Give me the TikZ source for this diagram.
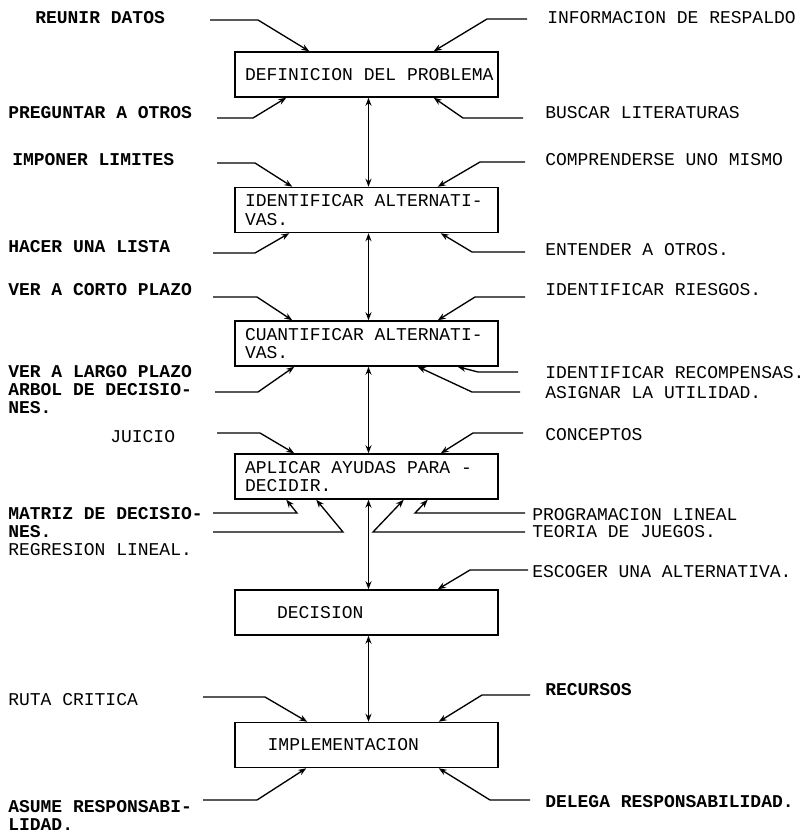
\documentclass[tikz,border=0pt]{standalone}
\usepackage{fontspec}
\setmonofont{Liberation Mono}
\usetikzlibrary{arrows.meta,calc}
\newcommand{\fixsp}{\spaceskip=0pt\xspaceskip=0pt\relax}
\tikzset{
  lbl/.style={anchor=west, inner sep=0pt, align=left,
    font=\ttfamily\fontsize{13.5pt}{13.5pt}\selectfont},
  lblb/.style={lbl, font=\ttfamily\bfseries\fontsize{13.5pt}{13.5pt}\selectfont},
  stepbox/.style={draw, line width=1.1pt, minimum width=197.25pt, minimum height=33.75pt,
    text width=182.25pt, inner xsep=7.5pt, inner ysep=0pt, align=left,
    font=\ttfamily\fontsize{13.5pt}{14pt}\selectfont},
  lead/.style={line width=1pt, -{Stealth[length=6pt,width=4.5pt]}},
  link/.style={line width=1.1pt, {Stealth[length=6pt,width=4.5pt]}-{Stealth[length=6pt,width=4.5pt]}},
}
\begin{document}
\begin{tikzpicture}[x=0.75pt,y=-0.75pt]
\useasboundingbox (0,0) rectangle (810,832);

% boxes
\node[stepbox] (b1) at (366.5,74.5) {\fixsp\mbox{DEFINICION DEL PROBLEMA}};
\node[stepbox] (b2) at (366.5,210) {\fixsp\mbox{IDENTIFICAR ALTERNATI-}\\\mbox{VAS.}};
\node[stepbox] (b3) at (366.5,343.5) {\fixsp\mbox{CUANTIFICAR ALTERNATI-}\\\mbox{VAS.}};
\node[stepbox] (b4) at (366.5,476.5) {\fixsp\mbox{APLICAR AYUDAS PARA -}\\\mbox{DECIDIR.}};
\node[stepbox] (b5) at (366.5,612.5) {\fixsp\hspace*{24pt}\mbox{DECISION}};
\node[stepbox] (b6) at (366.5,745) {\fixsp\hspace*{17pt}\mbox{IMPLEMENTACION}};

% vertical links
\draw[link] ($(b1.south)+(2,0)$) -- ($(b2.north)+(2,0)$);
\draw[link] ($(b2.south)+(2,0)$) -- ($(b3.north)+(2,0)$);
\draw[link] ($(b3.south)+(2,0)$) -- ($(b4.north)+(2,0)$);
\draw[link] ($(b4.south)+(2,0)$) -- ($(b5.north)+(2,0)$);
\draw[link] ($(b5.south)+(2,0)$) -- ($(b6.north)+(2,0)$);

% labels left
\node[lblb] (l1) at (35,18) {REUNIR DATOS};
\node[lblb] (l2) at (8,113) {PREGUNTAR A OTROS};
\node[lblb] (l3) at (12,160) {IMPONER LIMITES};
\node[lblb] (l4) at (8,247) {HACER UNA LISTA};
\node[lblb] (l5) at (8,290) {VER A CORTO PLAZO};
\node[lblb] (l6) at (8,390) {VER A LARGO PLAZO\\ARBOL DE DECISIO-\\NES.};
\node[lbl]  (l7) at (110,437) {JUICIO};
\node[lblb] (l8) at (8,523) {MATRIZ DE DECISIO-\\NES.};
\node[lbl]  (l9) at (8,550) {REGRESION LINEAL.};
\node[lbl]  (l10) at (8,700) {RUTA CRITICA};
\node[lblb] (l11) at (8,815) {ASUME RESPONSABI-\\LIDAD.};

% labels right
\node[lbl] (r1) at (547,18) {INFORMACION DE RESPALDO};
\node[lbl] (r2) at (545,113) {BUSCAR LITERATURAS};
\node[lbl] (r3) at (545,160) {COMPRENDERSE UNO MISMO};
\node[lbl] (r4) at (545,250) {ENTENDER A OTROS.};
\node[lbl] (r5) at (545,290) {IDENTIFICAR RIESGOS.};
\node[lbl] (r6) at (545,373) {IDENTIFICAR RECOMPENSAS.};
\node[lbl] (r7) at (545,393) {ASIGNAR LA UTILIDAD.};
\node[lbl] (r8) at (545,435) {CONCEPTOS};
\node[lbl] (r9) at (532,515) {PROGRAMACION LINEAL};
\node[lbl] (r10) at (532,532) {TEORIA DE JUEGOS.};
\node[lbl] (r11) at (532,572) {ESCOGER UNA ALTERNATIVA.};
\node[lblb] (r12) at (545,690) {RECURSOS};
\node[lblb] (r13) at (545,802) {DELEGA RESPONSABILIDAD.};

% leader start points
\coordinate (s1) at (210,20);
\coordinate (s2) at (217,118);
\coordinate (s3) at (217,163);
\coordinate (s4) at (213,253);
\coordinate (s5) at (213,297);
\coordinate (s6) at (215,392);
\coordinate (s7) at (217,433);
\coordinate (s8) at (213,513);
\coordinate (s9) at (213,532);
\coordinate (s10) at (203,697);
\coordinate (s11) at (203,800);
\coordinate (t1) at (527,19);
\coordinate (t2) at (523,118);
\coordinate (t3) at (525,162);
\coordinate (t4) at (525,252);
\coordinate (t5) at (525,297);
\coordinate (t6) at (518,372);
\coordinate (t7) at (520,392);
\coordinate (t8) at (523,433);
\coordinate (t9) at (525,513);
\coordinate (t10) at (525,532);
\coordinate (t11) at (528,570);
\coordinate (t12) at (530,695);
\coordinate (t13) at (530,800);

% left leaders
\draw[lead] (s1) -- ++(48,0) -- ($(b1.north west)+(75,0)$);
\draw[lead] (s2) -- ++(36,0) -- ($(b1.south west)+(52,0)$);
\draw[lead] (s3) -- ++(38,0) -- ($(b2.north west)+(58,0)$);
\draw[lead] (s4) -- ++(42,0) -- ($(b2.south west)+(55,0)$);
\draw[lead] (s5) -- ++(44,0) -- ($(b3.north west)+(58,0)$);
\draw[lead] (s6) -- ++(43,0) -- ($(b3.south west)+(60,0)$);
\draw[lead] (s7) -- ++(43,0) -- ($(b4.north west)+(60,0)$);
\draw[lead] (s8) -- ++(84,0) -- ($(b4.south west)+(52,0)$);
\draw[lead] (s9) -- ++(130,0) -- ($(b4.south west)+(82,0)$);
\draw[lead] (s10) -- ++(62,0) -- ($(b6.north west)+(73,0)$);
\draw[lead] (s11) -- ++(54,0) -- ($(b6.south west)+(72,0)$);

% right leaders
\draw[lead] (t1) -- ++(-40,0) -- ($(b1.north east)+(-65,0)$);
\draw[lead] (t2) -- ++(-60,0) -- ($(b1.south east)+(-65,0)$);
\draw[lead] (t3) -- ++(-45,0) -- ($(b2.north east)+(-61,0)$);
\draw[lead] (t4) -- ++(-53,0) -- ($(b2.south east)+(-58,0)$);
\draw[lead] (t5) -- ++(-50,0) -- ($(b3.north east)+(-61,0)$);
\draw[lead] (t6) -- ++(-40,0) -- ($(b3.south east)+(-41,0)$);
\draw[lead] (t7) -- ++(-48,0) -- ($(b3.south east)+(-81,0)$);
\draw[lead] (t8) -- ++(-50,0) -- ($(b4.north east)+(-58,0)$);
\draw[lead] (t9) -- ++(-110,0) -- ($(b4.south east)+(-71,0)$);
\draw[lead] (t10) -- ++(-152,0) -- ($(b4.south east)+(-95,0)$);
\draw[lead] (t11) -- ++(-58,0) -- ($(b5.north east)+(-61,0)$);
\draw[lead] (t12) -- ++(-48,0) -- ($(b6.north east)+(-60,0)$);
\draw[lead] (t13) -- ++(-40,0) -- ($(b6.south east)+(-60,0)$);
\end{tikzpicture}
\end{document}
